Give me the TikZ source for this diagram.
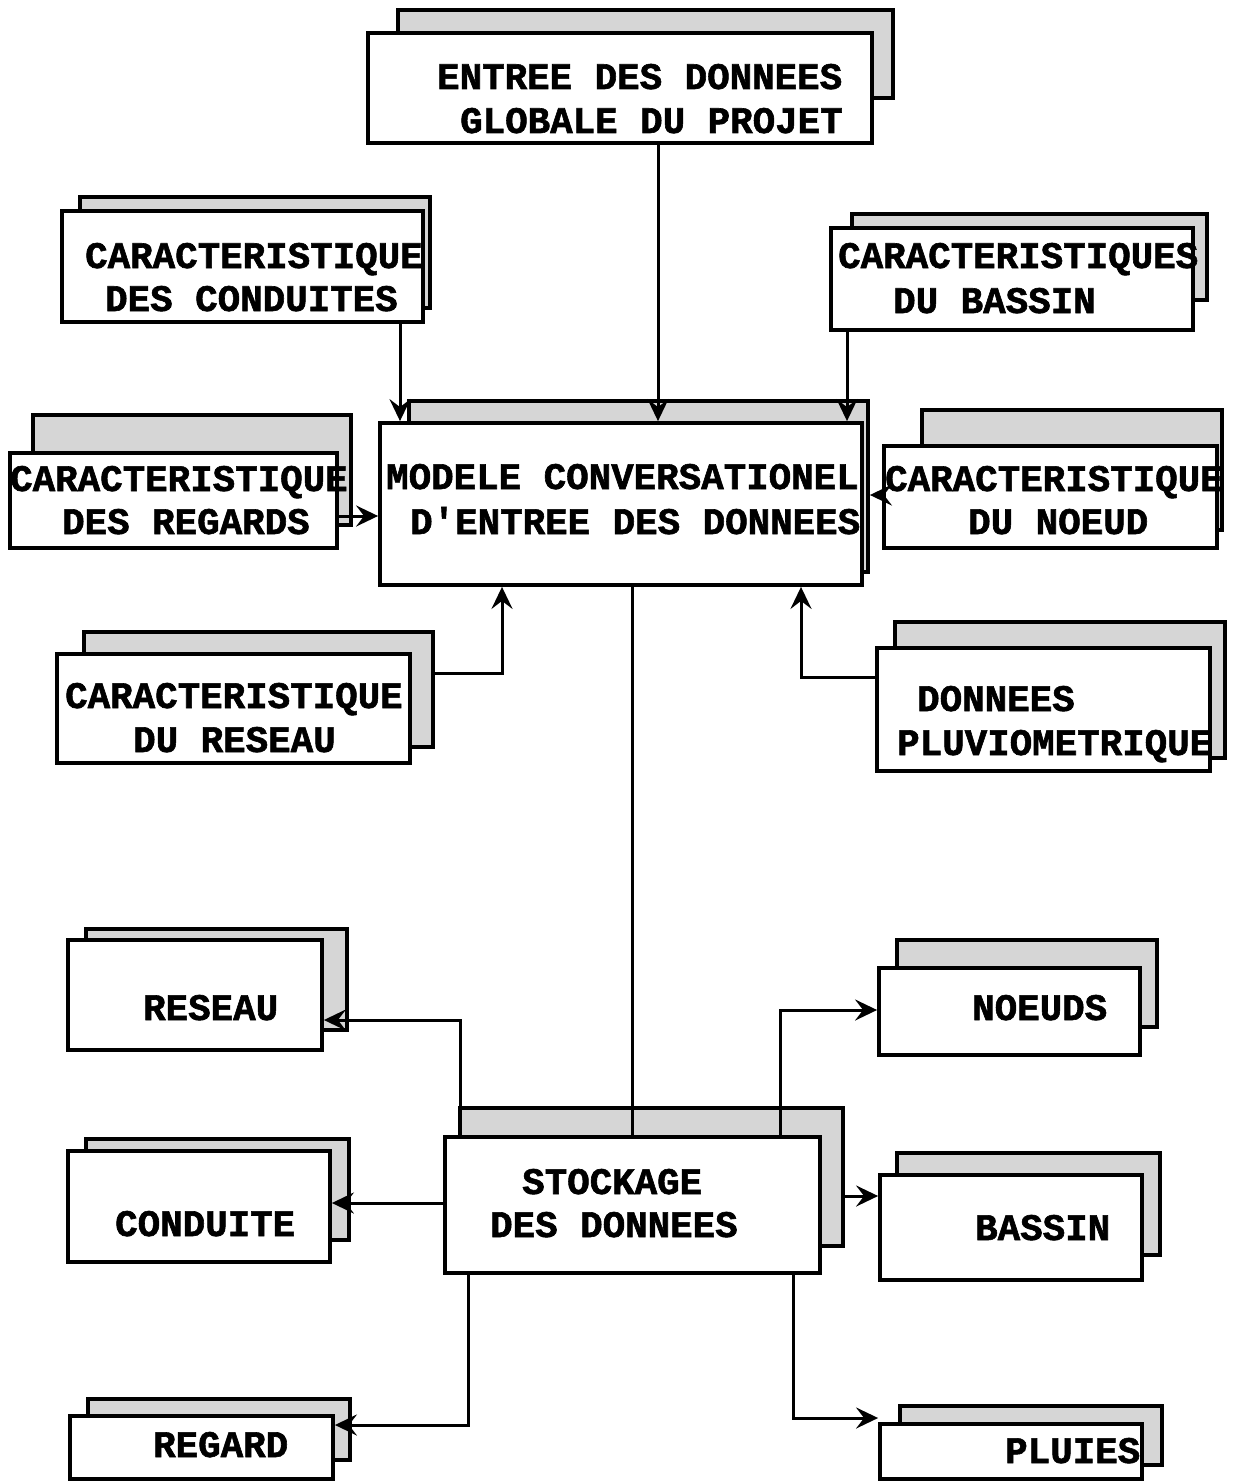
\documentclass[tikz,border=0pt]{standalone}
\usepackage{fontspec}
\newfontfamily\boxfont[BoldFeatures={FakeBold=1.6}]{Liberation Mono}
\usetikzlibrary{arrows.meta,fit}

\begin{document}
\begin{tikzpicture}[x=1pt,y=-1pt,
  front/.style={draw, line width=3.8pt, fill=white, inner sep=0pt},
  back/.style={draw, line width=3.8pt, fill=black!16, inner sep=0pt},
  lbl/.style={anchor=base west, inner sep=0pt,
    font=\boxfont\bfseries\fontsize{37.5}{44}\selectfont},
  link/.style={line width=3pt},
  arr/.style={link, -{Stealth[length=22pt,width=21pt,inset=8pt]}}]

\useasboundingbox (0,0) rectangle (1241,1482);
\fill[white] (0,0) rectangle (1241,1482);

% ---- input boxes (shaded back sheet, white front sheet) ----
\node[back,  fit={(398,10)(893,98)}]    (entree-s) {};
\node[front, fit={(368,33)(872,143)}]   (entree) {};
\node[lbl] (entree-t1) at (437,89)  {ENTREE DES DONNEES};
\node[lbl] (entree-t2) at (460,133) {GLOBALE DU PROJET};

\node[back,  fit={(80,197)(430,308)}]   (ccond-s) {};
\node[front, fit={(62,211)(423,322)}]   (ccond) {};
\node[lbl] (ccond-t1) at (85,268)  {CARACTERISTIQUE};
\node[lbl] (ccond-t2) at (105,311) {DES CONDUITES};

\node[back,  fit={(852,214)(1207,300)}] (cbas-s) {};
\node[front, fit={(831,228)(1193,330)}] (cbas) {};
\node[lbl] (cbas-t1) at (838,268) {CARACTERISTIQUES};
\node[lbl] (cbas-t2) at (893,313) {DU BASSIN};

\node[back,  fit={(409,401)(868,572)}]  (modele-s) {};
\node[front, fit={(380,423)(862,585)}]  (modele) {};
\node[lbl] (modele-t1) at (386,489) {MODELE CONVERSATIONEL};
\node[lbl] (modele-t2) at (410,534) {D\textquotesingle ENTREE DES DONNEES};

\node[back,  fit={(33,415)(351,525)}]   (creg-s) {};
\node[front, fit={(10,453)(337,548)}]   (creg) {};
\node[lbl] (creg-t1) at (10,491) {CARACTERISTIQUE};
\node[lbl] (creg-t2) at (62,534) {DES REGARDS};

\node[back,  fit={(922,410)(1222,530)}] (cnoe-s) {};
\node[front, fit={(884,446)(1217,548)}] (cnoe) {};
\node[lbl] (cnoe-t1) at (885,491) {CARACTERISTIQUE};
\node[lbl] (cnoe-t2) at (968,534) {DU NOEUD};

\node[back,  fit={(84,632)(433,747)}]   (cres-s) {};
\node[front, fit={(57,654)(410,763)}]   (cres) {};
\node[lbl] (cres-t1) at (65,708)  {CARACTERISTIQUE};
\node[lbl] (cres-t2) at (133,752) {DU RESEAU};

\node[back,  fit={(895,622)(1225,758)}] (pluv-s) {};
\node[front, fit={(877,648)(1210,771)}] (pluv) {};
\node[lbl] (pluv-t1) at (917,711) {DONNEES};
\node[lbl] (pluv-t2) at (897,755) {PLUVIOMETRIQUE};

% ---- storage boxes ----
\node[back,  fit={(460,1108)(843,1246)}] (stock-s) {};
\node[front, fit={(445,1137)(820,1273)}] (stock) {};
\node[lbl] (stock-t1) at (522,1194) {STOCKAGE};
\node[lbl] (stock-t2) at (490,1237) {DES DONNEES};

\node[back,  fit={(86,929)(347,1030)}]   (reseau-s) {};
\node[front, fit={(68,940)(322,1050)}]   (reseau) {};
\node[lbl] (reseau-t) at (143,1020) {RESEAU};

\node[back,  fit={(897,940)(1157,1027)}] (noeuds-s) {};
\node[front, fit={(879,968)(1140,1055)}] (noeuds) {};
\node[lbl] (noeuds-t) at (972,1020) {NOEUDS};

\node[back,  fit={(86,1139)(349,1240)}]  (conduite-s) {};
\node[front, fit={(68,1151)(330,1262)}]  (conduite) {};
\node[lbl] (conduite-t) at (115,1236) {CONDUITE};

\node[back,  fit={(897,1153)(1160,1255)}] (bassin-s) {};
\node[front, fit={(880,1175)(1142,1280)}] (bassin) {};
\node[lbl] (bassin-t) at (975,1240) {BASSIN};

\node[back,  fit={(88,1399)(350,1460)}]  (regard-s) {};
\node[front, fit={(70,1416)(333,1479)}]  (regard) {};
\node[lbl] (regard-t) at (153,1457) {REGARD};

\node[back,  fit={(900,1406)(1162,1465)}] (pluies-s) {};
\node[front, fit={(880,1424)(1142,1479)}] (pluies) {};
\node[lbl] (pluies-t) at (1005,1463) {PLUIES};

% ---- guide coordinates for connector positions ----
\coordinate (vE) at (658,0);
\coordinate (vA) at (400,0);
\coordinate (vB) at (847,0);
\coordinate (hR) at (0,516);
\coordinate (hN) at (0,495);
\coordinate (hL) at (0,673);
\coordinate (vL) at (502,0);
\coordinate (hP) at (0,677);
\coordinate (vP) at (801,0);
\coordinate (vM) at (632,0);
\coordinate (vR) at (460,0);
\coordinate (hRe) at (0,1020);
\coordinate (vN) at (780,0);
\coordinate (hNo) at (0,1010);
\coordinate (hC) at (0,1203);
\coordinate (hB) at (0,1196);
\coordinate (vG) at (468,0);
\coordinate (hG) at (0,1425);
\coordinate (vU) at (793,0);
\coordinate (hU) at (0,1418);

% ---- inputs into the conversational model ----
\draw[arr] (entree.south -| vE) -- (modele.north -| vE);
\draw[arr] (ccond.south -| vA) -- (modele.north -| vA);
\draw[arr] (cbas.south -| vB) -- (modele.north -| vB);
\draw[arr] (creg.east |- hR) -- (modele.west |- hR);
\draw[arr] (cnoe.west |- hN) -- (modele-s.east |- hN);
\draw[arr] (cres-s.east |- hL) -| (modele.south -| vL);
\draw[arr] (pluv.west |- hP) -| (modele.south -| vP);

% ---- model to storage ----
\draw[link] (modele.south -| vM) -- (stock.north -| vM);

% ---- storage outputs ----
\draw[arr] (stock-s.north -| vR) |- (reseau.east |- hRe);
\draw[arr] (stock.north -| vN) |- (noeuds.west |- hNo);
\draw[arr] (stock.west |- hC) -- (conduite.east |- hC);
\draw[arr] (stock-s.east |- hB) -- (bassin.west |- hB);
\draw[arr] (stock.south -| vG) |- (regard.east |- hG);
\draw[arr] (stock.south -| vU) |- (pluies.west |- hU);
\end{tikzpicture}
\end{document}
